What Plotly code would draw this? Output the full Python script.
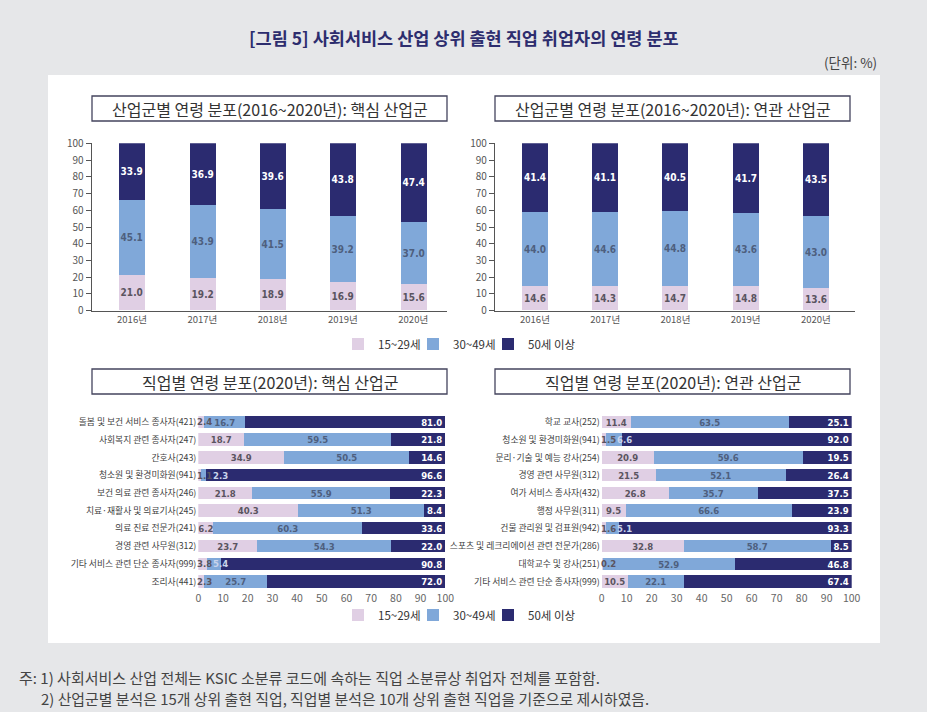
import plotly.graph_objects as go

# ---------------- data ----------------
years = ['2016년', '2017년', '2018년', '2019년', '2020년']
core_15_29 = [21.0, 19.2, 18.9, 16.9, 15.6]
core_30_49 = [45.1, 43.9, 41.5, 39.2, 37.0]
core_50 = [33.9, 36.9, 39.6, 43.8, 47.4]
rel_15_29 = [14.6, 14.3, 14.7, 14.8, 13.6]
rel_30_49 = [44.0, 44.6, 44.8, 43.6, 43.0]
rel_50 = [41.4, 41.1, 40.5, 41.7, 43.5]

core_jobs = ['돌봄 및 보건 서비스 종사자(421)', '사회복지 관련 종사자(247)', '간호사(243)',
             '청소원 및 환경미화원(941)', '보건 의료 관련 종사자(246)', '치료·재활사 및 의료기사(245)',
             '의료 진료 전문가(241)', '경영 관련 사무원(312)', '기타 서비스 관련 단순 종사자(999)',
             '조리사(441)']
core_job_15_29 = [2.4, 18.7, 34.9, 1.1, 21.8, 40.3, 6.2, 23.7, 3.8, 2.3]
core_job_30_49 = [16.7, 59.5, 50.5, 2.3, 55.9, 51.3, 60.3, 54.3, 5.4, 25.7]
core_job_50 = [81.0, 21.8, 14.6, 96.6, 22.3, 8.4, 33.6, 22.0, 90.8, 72.0]

rel_jobs = ['학교 교사(252)', '청소원 및 환경미화원(941)', '문리·기술 및 예능 강사(254)',
            '경영 관련 사무원(312)', '여가 서비스 종사자(432)', '행정 사무원(311)',
            '건물 관리원 및 검표원(942)', '스포츠 및 레크리에이션 관련 전문가(286)',
            '대학교수 및 강사(251)', '기타 서비스 관련 단순 종사자(999)']
rel_job_15_29 = [11.4, 1.5, 20.9, 21.5, 26.8, 9.5, 1.6, 32.8, 0.2, 10.5]
rel_job_30_49 = [63.5, 6.6, 59.6, 52.1, 35.7, 66.6, 5.1, 58.7, 52.9, 22.1]
rel_job_50 = [25.1, 92.0, 19.5, 26.4, 37.5, 23.9, 93.3, 8.5, 46.8, 67.4]

groups = ['15~29세', '30~49세', '50세 이상']
pct_ticks = [0, 10, 20, 30, 40, 50, 60, 70, 80, 90, 100]

main_title = '[그림 5] 사회서비스 산업 상위 출현 직업 취업자의 연령 분포'
unit_text = '(단위: %)'
panel_titles = ['산업군별 연령 분포(2016~2020년): 핵심 산업군',
                '산업군별 연령 분포(2016~2020년): 연관 산업군',
                '직업별 연령 분포(2020년): 핵심 산업군',
                '직업별 연령 분포(2020년): 연관 산업군']
notes = ['주: 1) 사회서비스 산업 전체는 KSIC 소분류 코드에 속하는 직업 소분류상 취업자 전체를 포함함.',
         '2) 산업군별 분석은 15개 상위 출현 직업, 직업별 분석은 10개 상위 출현 직업을 기준으로 제시하였음.']

# ---------------- style ----------------
W, H = 927, 712
COLORS = ['#e0cfe4', '#80a8d9', '#2b2b70']
TXT_COLORS = ['#5a5460', '#4e5f7e', '#ffffff']
SMALL_BLUE_TXT = '#c9d4ec'
KR = 'Noto Sans CJK KR, Noto Sans, sans-serif'
NUM = 'Liberation Sans Narrow, DejaVu Sans Condensed, Roboto, sans-serif'
BG = '#e6e7e9'
LEG_W = [30, 30, 56]


def px(x):
    return x / W


def py(y):
    return 1 - y / H


fig = go.Figure()

# ---------------- top stacked columns ----------------
top_sets = [(core_15_29, core_30_49, core_50, 'x', 'y', True),
            (rel_15_29, rel_30_49, rel_50, 'x2', 'y2', False)]
for s1, s2, s3, xa, ya, show in top_sets:
    for i, vals in enumerate([s1, s2, s3]):
        fig.add_trace(go.Bar(
            x=years, y=vals, name=groups[i], marker=dict(color=COLORS[i], line=dict(width=0)),
            width=0.37, xaxis=xa, yaxis=ya, legend='legend', showlegend=show,
            legendwidth=LEG_W[i],
            text=[f'{v:.1f}' for v in vals], textposition='inside', insidetextanchor='middle',
            textangle=0, constraintext='none',
            textfont=dict(family=NUM, size=10, color=TXT_COLORS[i], weight='bold'),
            hoverinfo='skip'))

# ---------------- bottom stacked bars ----------------
annotations = []
bot_sets = [(core_jobs, core_job_15_29, core_job_30_49, core_job_50, 'x3', 'y3', True),
            (rel_jobs, rel_job_15_29, rel_job_30_49, rel_job_50, 'x4', 'y4', False)]
for jobs, s1, s2, s3, xa, ya, show in bot_sets:
    t1 = ['' if v < 5 else f'{v:.1f}' for v in s1]
    t2 = ['' if v < 8 else f'{v:.1f}' for v in s2]
    t3 = [f'{v:.1f}' for v in s3]
    for i, (vals, txt) in enumerate([(s1, t1), (s2, t2), (s3, t3)]):
        fig.add_trace(go.Bar(
            y=jobs, x=vals, orientation='h', name=groups[i],
            marker=dict(color=COLORS[i], line=dict(width=0)), width=0.7,
            xaxis=xa, yaxis=ya, legend='legend2', showlegend=show, legendwidth=LEG_W[i],
            text=txt, textposition='inside', textangle=0, constraintext='none',
            insidetextanchor='end' if i == 2 else 'middle',
            textfont=dict(family=NUM, size=9.5, color=TXT_COLORS[i], weight='bold'),
            hoverinfo='skip'))
    # labels for segments too narrow to hold their value
    for j, job in enumerate(jobs):
        if s1[j] < 5:
            annotations.append(dict(x=0, y=job, xref=xa, yref=ya, text=f'{s1[j]:.1f}',
                                    showarrow=False, xanchor='left', xshift=-3,
                                    font=dict(family=NUM, size=9.5, color=TXT_COLORS[0],
                                              weight='bold')))
        if s2[j] < 8:
            annotations.append(dict(x=0, y=job, xref=xa, yref=ya, text=f'{s2[j]:.1f}',
                                    showarrow=False, xanchor='left', xshift=13,
                                    font=dict(family=NUM, size=9.5, color=SMALL_BLUE_TXT,
                                              weight='bold')))

# ---------------- axes ----------------
tick_font = dict(family=KR, size=10, color='#555555')
top_y = dict(range=[0, 100], tickvals=pct_ticks, ticks='outside', ticklen=5, tickcolor='#555555',
             showline=True, linecolor='#555555', linewidth=1.2, showgrid=False, zeroline=False,
             tickfont=tick_font, domain=[py(310.7), py(143.3)])
top_x_common = dict(type='category', showline=True, linecolor='#555555', linewidth=1.2,
                    showgrid=False, ticks='', tickfont=dict(family=KR, size=9.5, color='#555555'))

fig.update_layout(
    xaxis=dict(domain=[px(91.7), px(447)], range=[-0.573, 4.48], anchor='y', **top_x_common),
    yaxis=dict(anchor='x', **top_y),
    xaxis2=dict(domain=[px(495), px(855)], range=[-0.569, 4.556], anchor='y2', **top_x_common),
    yaxis2=dict(anchor='x2', **top_y),
    xaxis3=dict(domain=[px(198.3), px(445.3)], range=[0, 100], tickvals=pct_ticks, anchor='y3',
                showline=False, showgrid=False, zeroline=False, ticks='',
                tickfont=dict(family=KR, size=10.5, color='#666666')),
    yaxis3=dict(domain=[py(590.4), py(413.1)], anchor='x3', type='category',
                categoryorder='array', categoryarray=core_jobs, autorange='reversed',
                showline=False, showgrid=False, ticks='', ticklabelstandoff=1,
                tickfont=dict(family=KR, size=8.8, color='#3f3f3f')),
    xaxis4=dict(domain=[px(601.7), px(851.7)], range=[0, 100], tickvals=pct_ticks, anchor='y4',
                showline=False, showgrid=False, zeroline=False, ticks='',
                tickfont=dict(family=KR, size=10.5, color='#666666')),
    yaxis4=dict(domain=[py(590.4), py(413.1)], anchor='x4', type='category',
                categoryorder='array', categoryarray=rel_jobs, autorange='reversed',
                showline=False, showgrid=False, ticks='', ticklabelstandoff=1,
                tickfont=dict(family=KR, size=8.8, color='#3f3f3f')),
)

# ---------------- shapes: panel + title boxes ----------------
shapes = [dict(type='rect', xref='paper', yref='paper', x0=px(48), x1=px(880), y0=py(643), y1=py(75),
               fillcolor='white', line=dict(width=0), layer='below')]
boxes = [(92, 447, 96, 121), (495, 850, 96, 121), (92, 447, 369, 394), (495, 850, 369, 394)]
for (x0, x1, y0, y1), t in zip(boxes, panel_titles):
    shapes.append(dict(type='rect', xref='paper', yref='paper', x0=px(x0), x1=px(x1),
                       y0=py(y1), y1=py(y0), fillcolor='white',
                       line=dict(color='#44445e', width=1.3), layer='below'))
    annotations.append(dict(x=px((x0 + x1) / 2), y=py((y0 + y1) / 2), xref='paper', yref='paper',
                            text=t, showarrow=False, xanchor='center', yanchor='middle',
                            font=dict(family=KR, size=16, color='#333333')))

annotations += [
    dict(x=px(464), y=py(38), xref='paper', yref='paper', text=f'<b>{main_title}</b>',
         showarrow=False, xanchor='center', yanchor='middle',
         font=dict(family=KR, size=17.5, color='#2d2d6e')),
    dict(x=px(879), y=py(62), xref='paper', yref='paper', text=unit_text, showarrow=False,
         xanchor='right', yanchor='middle', font=dict(family=KR, size=13.5, color='#444444')),
    dict(x=px(17), y=py(677), xref='paper', yref='paper', text=notes[0], showarrow=False,
         xanchor='left', yanchor='middle', font=dict(family=KR, size=15, color='#444444')),
    dict(x=px(39), y=py(698), xref='paper', yref='paper', text=notes[1], showarrow=False,
         xanchor='left', yanchor='middle', font=dict(family=KR, size=14.9, color='#444444')),
]

legend_common = dict(orientation='h', xanchor='center', yanchor='middle', x=0.5,
                     bgcolor='rgba(0,0,0,0)',
                     font=dict(family=KR, size=11.5, color='#333333'), traceorder='normal')

fig.update_layout(
    width=W, height=H, autosize=False,
    margin=dict(l=0, r=0, t=0, b=0, autoexpand=False),
    paper_bgcolor=BG, plot_bgcolor='rgba(0,0,0,0)',
    barmode='stack', bargap=0,
    shapes=shapes, annotations=annotations,
    legend=dict(y=py(344), **legend_common),
    legend2=dict(y=py(615), **legend_common),
    showlegend=True,
)

fig.write_html(
    'out.html',
    config={'displayModeBar': False, 'responsive': False},
    post_script=("document.documentElement.style.margin='0';"
                 "document.body.style.margin='0';"
                 "document.documentElement.style.overflow='hidden';"
                 "document.body.style.overflow='hidden';"),
)
